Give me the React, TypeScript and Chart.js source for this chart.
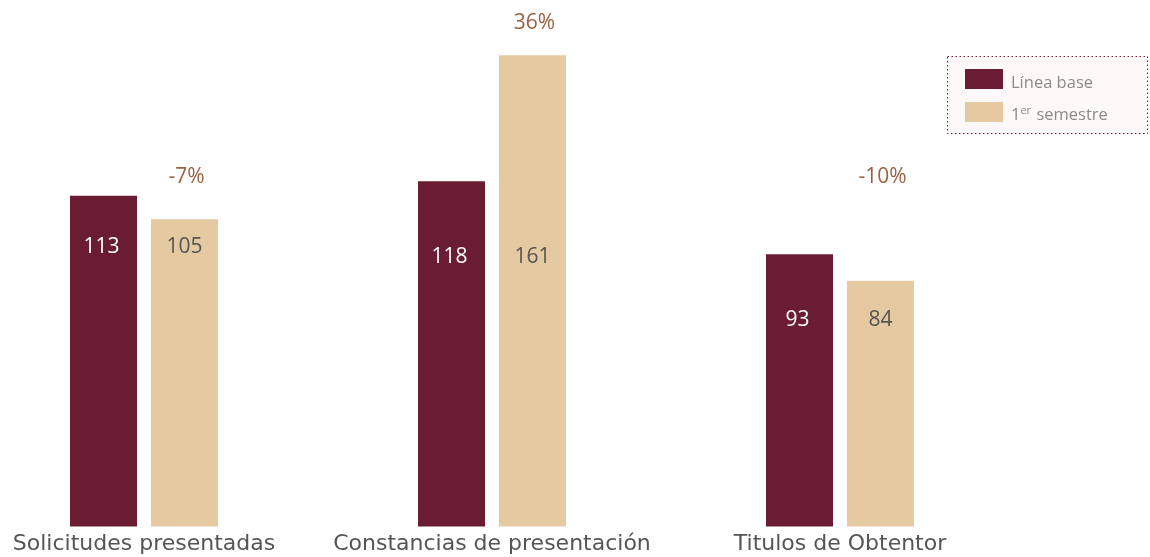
import React, { useEffect, useRef } from "react";
import { Chart, registerables } from "chart.js";

Chart.register(...registerables);

const categories = ["Solicitudes presentadas", "Constancias de presentación", "Titulos de Obtentor"];
const baseLabel = "Línea base";
const semLabel = "1er semestre";
const baseValues = [113, 118, 93];
const semValues = [105, 161, 84];
// vertical anchors (in data units) for the in-bar value labels and the change labels
const valueLabelAt = [95.5, 92, 70.6];
const changeLabelAt = [119.5, 172, 119.5];

const FONT = "'Open Sans', 'DejaVu Sans', sans-serif";
const TICK_FONT = "'DejaVu Sans', sans-serif";
const DARK = "#691C32";
const LIGHT = "#E4C9A1";
const BROWN = "#9B6240";

const labelsPlugin = {
  id: "customLabels",
  afterDatasetsDraw(chart: any) {
    const ctx = chart.ctx;
    const y = chart.scales.y;
    const m0 = chart.getDatasetMeta(0);
    const m1 = chart.getDatasetMeta(1);
    ctx.save();
    ctx.textAlign = "center";
    ctx.textBaseline = "middle";
    ctx.font = `21px ${FONT}`;
    categories.forEach((_, i) => {
      const ly = y.getPixelForValue(valueLabelAt[i]);
      ctx.fillStyle = "#ffffff";
      ctx.fillText(String(baseValues[i]), m0.data[i].x - 2, ly);
      ctx.fillStyle = "#555555";
      ctx.fillText(String(semValues[i]), m1.data[i].x, ly);
      const pct = Math.round(((semValues[i] - baseValues[i]) / baseValues[i]) * 100);
      ctx.fillStyle = BROWN;
      ctx.fillText(`${pct}%`, m1.data[i].x + 2, y.getPixelForValue(changeLabelAt[i]));
    });
    ctx.restore();
  },
  afterDraw(chart: any) {
    const ctx = chart.ctx;
    ctx.save();
    const bx = 947.5, by = 56.5, bw = 200, bh = 77;
    ctx.fillStyle = "#FDF9F8";
    ctx.fillRect(bx, by, bw, bh);
    ctx.strokeStyle = "#6A1A32";
    ctx.lineWidth = 1;
    ctx.setLineDash([1.5, 2.5]);
    ctx.strokeRect(bx, by, bw, bh);
    ctx.setLineDash([]);
    ctx.fillStyle = DARK;
    ctx.fillRect(965, 69, 38, 20);
    ctx.fillStyle = LIGHT;
    ctx.fillRect(965, 102, 38, 20);
    ctx.fillStyle = "#8A8A8A";
    ctx.textAlign = "left";
    ctx.textBaseline = "alphabetic";
    ctx.font = `16.5px ${FONT}`;
    ctx.fillText(baseLabel, 1011, 88);
    // "1er semestre" with superscript "er"
    const num = semLabel.slice(0, 1);
    const sup = semLabel.slice(1, 3);
    const rest = semLabel.slice(3);
    let x = 1011;
    ctx.fillText(num, x, 120);
    x += ctx.measureText(num).width;
    ctx.font = `11px ${FONT}`;
    ctx.fillText(sup, x, 114);
    x += ctx.measureText(sup).width + 1;
    ctx.font = `16.5px ${FONT}`;
    ctx.fillText(rest, x, 120);
    ctx.restore();
  },
};

export default function App() {
  const ref = useRef<HTMLCanvasElement>(null);
  useEffect(() => {
    if (!ref.current) return;
    const chart = new Chart(ref.current, {
      type: "bar",
      data: {
        labels: categories,
        datasets: [
          { label: baseLabel, data: baseValues, backgroundColor: DARK, clip: false as any },
          { label: semLabel, data: semValues, backgroundColor: LIGHT, clip: false as any },
        ],
      },
      options: {
        animation: false,
        responsive: true,
        maintainAspectRatio: false,
        categoryPercentage: 0.4655,
        barPercentage: 0.827,
        layout: { padding: { left: 144, right: 310, top: 29, bottom: 0 } },
        plugins: { legend: { display: false }, tooltip: { enabled: false } },
        scales: {
          x: {
            type: "category",
            offset: false,
            grid: { display: false, drawTicks: false },
            border: { display: false },
            ticks: {
              color: "#555555",
              font: { family: TICK_FONT, size: 22 },
              padding: 5,
              maxRotation: 0,
              autoSkip: false,
            },
            afterFit: (s: any) => {
              s.height = 30.5;
            },
          },
          y: { display: false, min: 0, max: 170 },
        },
      },
      plugins: [labelsPlugin],
    });
    return () => chart.destroy();
  }, []);
  return (
    <div style={{ position: "fixed", left: 0, top: 0, width: 1150, height: 557, background: "#fff" }}>
      <canvas ref={ref} />
    </div>
  );
}
